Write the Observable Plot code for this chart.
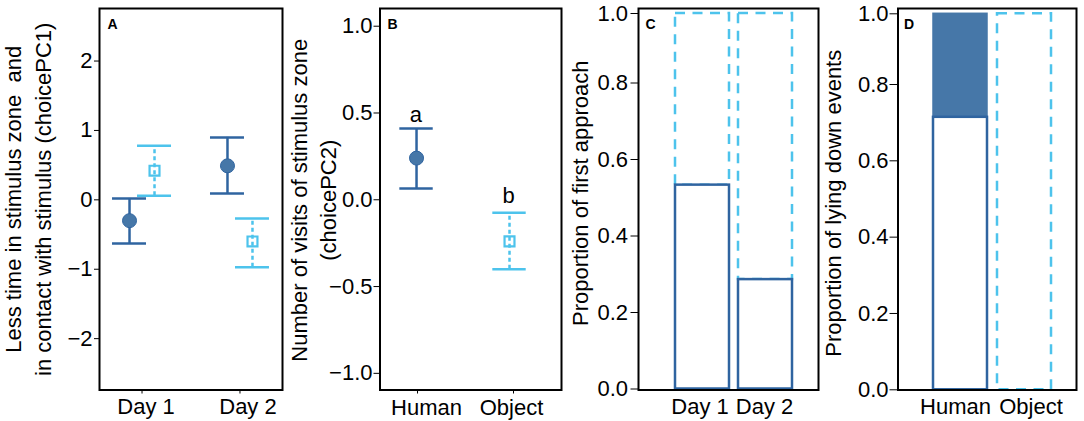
<!DOCTYPE html>
<html><head><meta charset="utf-8">
<script src="https://cdn.jsdelivr.net/npm/d3@7"></script>
<script src="https://cdn.jsdelivr.net/npm/@observablehq/plot@0.6"></script>
<style>
body{margin:0;background:#fff;}
#chart{position:relative;width:1084px;height:421px;overflow:hidden;background:#fff;}
.panel{position:absolute;top:0;}
svg text{white-space:pre;}
</style></head><body><div id="chart"></div>
<script>
const FONT = '"Liberation Sans", Arial, Helvetica, sans-serif';
const DARK = "#2f64a0";
const FILL = "#4677a8";
const LIGHT = "#4dc3ec";

// ---- Panel A data ----
const daysA = ["Day 1", "Day 2"];
const humanMeanA = [-0.30, 0.49];
const humanLowA = [-0.63, 0.09];
const humanHighA = [0.02, 0.90];
const objectMeanA = [0.42, -0.60];
const objectLowA = [0.06, -0.97];
const objectHighA = [0.78, -0.27];
const yTicksA = [-2, -1, 0, 1, 2];
const titleA = "Less time in stimulus zone  and\nin contact with stimulus (choicePC1)";

// ---- Panel B data ----
const stimB = ["Human", "Object"];
const meanB = [0.24, -0.24];
const lowB = [0.065, -0.40];
const highB = [0.41, -0.075];
const lettersB = ["a", "b"];
const yTicksB = [-1, -0.5, 0, 0.5, 1];
const titleB = "Number of visits of stimulus zone\n(choicePC2)";

// ---- Panel C data ----
const daysC = ["Day 1", "Day 2"];
const humanC = [0.533, 0.286];
const objectC = [0.467, 0.714];
const yTicksC = [0, 0.2, 0.4, 0.6, 0.8, 1.0];
const titleC = "Proportion of first approach";

// ---- Panel D data ----
const stimD = ["Human", "Object"];
const openD = [0.714, 1.0];
const filledD = [0.286, 0.0];
const yTicksD = [0, 0.2, 0.4, 0.6, 0.8, 1.0];
const titleD = "Proportion of lying down events";

const chart = document.getElementById("chart");
function place(svg, left) {
  const div = document.createElement("div");
  div.className = "panel";
  div.style.left = left + "px";
  div.appendChild(svg);
  chart.appendChild(div);
}
const baseStyle = {fontFamily: FONT, background: "transparent", overflow: "visible", color: "black"};
const letter = (t, dx) => Plot.text([t], {text: d => d, frameAnchor: "top-left", textAnchor: "start", lineAnchor: "top", dx, dy: 10.5, fontSize: 14, fontWeight: "bold", fontFamily: FONT});
const title = (t, dx, dy, lh) => Plot.text([t], {text: d => d, frameAnchor: "left", rotate: -90, textAnchor: "middle", lineAnchor: "middle", lineHeight: lh, dx, dy, fontSize: 22, fontFamily: FONT});

// ---------- Panel A ----------
const dataA = daysA.map((d, i) => ({i: i + 1, day: d, hm: humanMeanA[i], hl: humanLowA[i], hh: humanHighA[i], om: objectMeanA[i], ol: objectLowA[i], oh: objectHighA[i]}));
const capA = 17 / 98;
const plotA = Plot.plot({
  width: 290, height: 421, marginLeft: 99, marginRight: 8, marginTop: 8, marginBottom: 31.5,
  style: baseStyle,
  x: {type: "linear", domain: [0.566, 2.434]},
  y: {domain: [-2.74, 2.757]},
  marks: [
    Plot.ruleX(dataA, {x: "i", y1: "hl", y2: "hh", dx: -12.5, stroke: DARK, strokeWidth: 2.5}),
    Plot.ruleY(dataA, {y: "hl", x1: d => d.i - capA, x2: d => d.i + capA, dx: -12.5, stroke: DARK, strokeWidth: 2.5}),
    Plot.ruleY(dataA, {y: "hh", x1: d => d.i - capA, x2: d => d.i + capA, dx: -12.5, stroke: DARK, strokeWidth: 2.5}),
    Plot.dot(dataA, {x: "i", y: "hm", r: 7, fill: FILL, stroke: DARK, strokeWidth: 1, dx: -12.5}),
    Plot.ruleX(dataA, {x: "i", y1: "ol", y2: "oh", dx: 12.5, stroke: LIGHT, strokeWidth: 2.5, strokeDasharray: "4,3"}),
    Plot.ruleY(dataA, {y: "ol", x1: d => d.i - capA, x2: d => d.i + capA, dx: 12.5, stroke: LIGHT, strokeWidth: 2.5}),
    Plot.ruleY(dataA, {y: "oh", x1: d => d.i - capA, x2: d => d.i + capA, dx: 12.5, stroke: LIGHT, strokeWidth: 2.5}),
    Plot.dot(dataA, {x: "i", y: "om", symbol: "square", r: 5.6, fill: "none", stroke: LIGHT, strokeWidth: 2.2, dx: 12.5}),
    Plot.axisY({ticks: yTicksA, tickFormat: d3.format("d"), tickSize: 5, tickPadding: 2, fontSize: 22, label: null}),
    Plot.axisX({ticks: [1, 2], tickFormat: () => "", tickSize: 4, label: null}),
    Plot.axisX({ticks: [1], tickFormat: d => daysA[d - 1], tickSize: 0, tickPadding: 8.5, dx: 4, fontSize: 22, label: null}),
    Plot.axisX({ticks: [2], tickFormat: d => daysA[d - 1], tickSize: 0, tickPadding: 8.5, dx: 8, fontSize: 22, label: null}),
    letter("A", 8),
    title(titleA, -73.5, 0, 1.386),
    Plot.frame({stroke: "black", strokeWidth: 2})
  ]
});
place(plotA, 0);

// ---------- Panel B ----------
const dataB = stimB.map((s, i) => ({i: i + 1, stim: s, mean: meanB[i], low: lowB[i], high: highB[i], letter: lettersB[i]}));
const capB = 16.7 / 96;
const hB = dataB.filter(d => d.stim === "Human");
const oB = dataB.filter(d => d.stim === "Object");
const plotB = Plot.plot({
  width: 275, height: 421, marginLeft: 89.5, marginRight: 4, marginTop: 8, marginBottom: 31.5,
  style: baseStyle,
  x: {type: "linear", domain: [0.609, 2.5]},
  y: {domain: [-1.096, 1.102]},
  marks: [
    Plot.ruleX(hB, {x: "i", y1: "low", y2: "high", dx: -1, stroke: DARK, strokeWidth: 2.5}),
    Plot.ruleY(hB, {y: "low", x1: d => d.i - capB, x2: d => d.i + capB, dx: -1, stroke: DARK, strokeWidth: 2.5}),
    Plot.ruleY(hB, {y: "high", x1: d => d.i - capB, x2: d => d.i + capB, dx: -1, stroke: DARK, strokeWidth: 2.5}),
    Plot.dot(hB, {x: "i", y: "mean", r: 7, fill: FILL, stroke: DARK, strokeWidth: 1, dx: -1}),
    Plot.text(hB, {x: "i", y: "high", text: "letter", lineAnchor: "bottom", dy: -7, dx: -1.7, fontSize: 22, fontFamily: FONT}),
    Plot.ruleX(oB, {x: "i", y1: "low", y2: "high", dx: -4, stroke: LIGHT, strokeWidth: 2.5, strokeDasharray: "4,3"}),
    Plot.ruleY(oB, {y: "low", x1: d => d.i - capB, x2: d => d.i + capB, dx: -4, stroke: LIGHT, strokeWidth: 2.5}),
    Plot.ruleY(oB, {y: "high", x1: d => d.i - capB, x2: d => d.i + capB, dx: -4, stroke: LIGHT, strokeWidth: 2.5}),
    Plot.dot(oB, {x: "i", y: "mean", symbol: "square", r: 5.6, fill: "none", stroke: LIGHT, strokeWidth: 2.2, dx: -4}),
    Plot.text(oB, {x: "i", y: "high", text: "letter", lineAnchor: "bottom", dy: -10, dx: -5, fontSize: 22, fontFamily: FONT}),
    Plot.axisY({ticks: yTicksB, tickFormat: d3.format(".1f"), tickSize: 6, tickPadding: 1.5, fontSize: 22, label: null}),
    Plot.axisX({ticks: [1, 2], tickFormat: () => "", tickSize: 4, label: null}),
    Plot.axisX({ticks: [1], tickFormat: d => stimB[d - 1], tickSize: 0, tickPadding: 9, dx: 9, fontSize: 22, label: null}),
    Plot.axisX({ticks: [2], tickFormat: d => stimB[d - 1], tickSize: 0, tickPadding: 9, dx: -2, fontSize: 22, label: null}),
    letter("B", 7.5),
    title(titleB, -68.1, 1, 1.364),
    Plot.frame({stroke: "black", strokeWidth: 2})
  ]
});
place(plotB, 290);

// ---------- Panel C ----------
const dataC = daysC.map((d, i) => ({day: d, human: humanC[i], object: objectC[i]}));
const plotC = Plot.plot({
  width: 258, height: 421, marginLeft: 73, marginRight: 5, marginTop: 8, marginBottom: 31.5,
  style: baseStyle,
  x: {type: "band", domain: daysC, range: [110, 228], paddingInner: 0.14, paddingOuter: 0},
  y: {type: "linear", domain: [0, 0.8, 1], range: [388.5, 82.5, 13]},
  marks: [
    Plot.barY(dataC, {x: "day", y1: "human", y2: d => d.human + d.object, fill: "white", stroke: LIGHT, strokeWidth: 2.5, strokeDasharray: "10,7.5"}),
    Plot.barY(dataC, {x: "day", y1: 0, y2: "human", fill: "white", stroke: DARK, strokeWidth: 2.5}),
    Plot.axisY({ticks: yTicksC, tickFormat: d3.format(".1f"), tickSize: 7.5, tickPadding: 3, fontSize: 22, label: null}),
    Plot.axisX({ticks: ["Day 1"], tickSize: 0, tickPadding: 8, dx: -2.5, fontSize: 22, label: null}),
    Plot.axisX({ticks: ["Day 2"], tickSize: 0, tickPadding: 8, dx: -1, fontSize: 22, label: null}),
    letter("C", 7),
    title(titleC, -58, -6, 1),
    Plot.frame({stroke: "black", strokeWidth: 2})
  ]
});
place(plotC, 565);

// ---------- Panel D ----------
const dataD = stimD.map((s, i) => ({stim: s, open: openD[i], filled: filledD[i]}));
const hD = dataD.filter(d => d.stim === "Human");
const oD = dataD.filter(d => d.stim === "Object");
const plotD = Plot.plot({
  width: 261, height: 421, marginLeft: 74.5, marginRight: 8, marginTop: 8, marginBottom: 31.5,
  style: baseStyle,
  x: {type: "band", domain: stimD, range: [110, 229], paddingInner: 0.155, paddingOuter: 0},
  y: {type: "linear", domain: [0, 0.8, 1], range: [389.3, 84, 13.3]},
  marks: [
    Plot.barY(oD, {x: "stim", y1: 0, y2: "open", fill: "white", stroke: LIGHT, strokeWidth: 2.5, strokeDasharray: "10,7.5"}),
    Plot.barY(hD, {x: "stim", y1: "open", y2: d => d.open + d.filled, fill: FILL, stroke: FILL, strokeWidth: 1.5}),
    Plot.barY(hD, {x: "stim", y1: 0, y2: "open", fill: "white", stroke: DARK, strokeWidth: 2.5}),
    Plot.axisY({ticks: yTicksD, tickFormat: d3.format(".1f"), tickSize: 8, tickPadding: 1.5, fontSize: 22, label: null}),
    Plot.axisX({ticks: ["Human"], tickSize: 0, tickPadding: 8, dx: -5, fontSize: 22, label: null}),
    Plot.axisX({ticks: ["Object"], tickSize: 0, tickPadding: 8, dx: 6.5, fontSize: 22, label: null}),
    letter("D", 6),
    title(titleD, -64, 4, 1),
    Plot.frame({stroke: "black", strokeWidth: 2})
  ]
});
place(plotD, 823);
</script></body></html>
